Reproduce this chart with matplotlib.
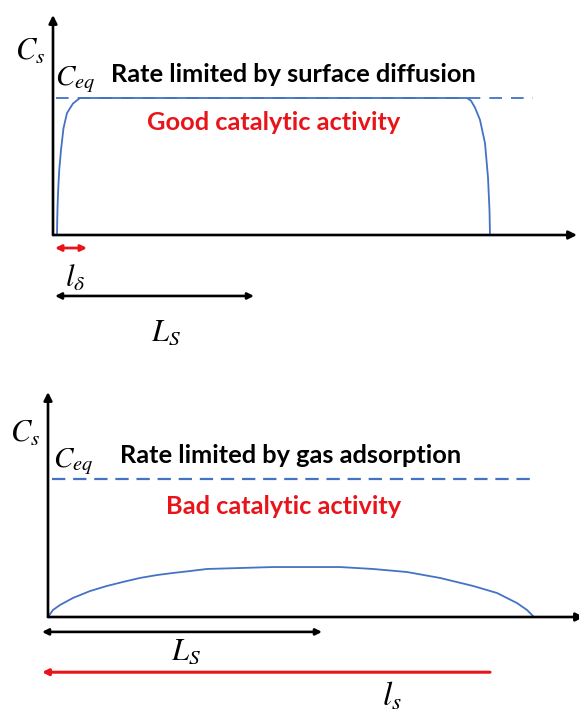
#%%### Imports
import numpy as np
import matplotlib as mpl
import matplotlib.pyplot as plt

#%%### Data
## Surface concentration profiles, C_s / C_eq vs. position (arbitrary length units)
## Top: rate limited by surface diffusion
top_x = [4, 4.2, 4.6, 5.3, 6.3, 8, 10.5, 14, 20, 27, 414, 418, 422, 427, 432, 435, 436.5, 437]
top_c = [0, 0.1, 0.22, 0.35, 0.48, 0.62, 0.78, 0.89, 0.96, 1.0, 1.0, 0.98, 0.93, 0.84, 0.67, 0.42, 0.18, 0]
## Bottom: rate limited by gas adsorption
bot_x = [0, 5, 12, 25, 42, 59, 75, 92, 109, 125, 142, 159, 192, 225, 242, 292,
         325, 359, 392, 425, 449, 469, 479, 486]
bot_c = [0, 0.051, 0.087, 0.138, 0.188, 0.225, 0.254, 0.283, 0.304, 0.319, 0.333, 0.348,
         0.355, 0.362, 0.362, 0.362, 0.348, 0.326, 0.283, 0.225, 0.174, 0.101, 0.051, 0]
c_eq = 1.0

## Length scales drawn under the axes
top_ldelta = 32
top_Ls = 199
bot_Ls = 280
bot_ls = 448

titles = ['Rate limited by surface diffusion', 'Rate limited by gas adsorption']
verdicts = ['Good catalytic activity', 'Bad catalytic activity']

#%%### Style
blue = '#4472C4'
red = '#E8141A'
plt.rcParams['mathtext.fontset'] = 'stix'
textfont = dict(family='Lato', weight='bold', fontsize=18.3)
mathsize = 21


def axis_arrows(ax, xend, ytop):
    for tip in [(0, ytop), (xend, 0)]:
        ax.annotate('', xy=tip, xytext=(0, 0), annotation_clip=False,
                    arrowprops=dict(arrowstyle='-|>', color='k', lw=1.9,
                                    shrinkA=0, shrinkB=0, mutation_scale=12))


def span(ax, x0, x1, y, color, style='<|-|>', lw=1.9):
    ax.annotate('', xy=(x1, y), xytext=(x0, y), annotation_clip=False,
                arrowprops=dict(arrowstyle=style, color=color, lw=lw,
                                shrinkA=0, shrinkB=0, mutation_scale=9))


#%%### Figure
f = plt.figure(figsize=(5.79, 7.16), dpi=100)

### Top panel: origin at pixel (53, 235), C_eq 137 px above
ax1 = f.add_axes([0, 356/716, 1, 360/716])
ax1.set_xlim(-53, 526)
ax1.set_ylim(-125/137, 235/137)
ax1.axis('off')
axis_arrows(ax1, 524, 220/137)
ax1.plot([3, 480], [c_eq, c_eq], color=blue, lw=1.3, ls=(0, (7, 5)))
ax1.plot(top_x, top_c, color=blue, lw=1.3, solid_capstyle='round')
ax1.text(-38, 1.28, r'$C_s$', fontsize=mathsize + 1, ha='left', va='baseline')
ax1.text(2, 1.095, r'$C_{eq}$', fontsize=mathsize, ha='left', va='baseline')
ax1.text(58, 1.175, titles[0], color='k', ha='left', va='center', **textfont)
ax1.text(94, 0.82, verdicts[0], color=red, ha='left', va='center', **textfont)
span(ax1, 2, 2 + top_ldelta, -0.095, red, lw=2.0)
ax1.text(22, -0.31, r'$l_\delta$', fontsize=mathsize + 1, ha='center', va='center')
span(ax1, 2, 2 + top_Ls, -0.445, 'k')
ax1.text(113, -0.71, r'$L_S$', fontsize=mathsize + 1, ha='center', va='center')

### Bottom panel: origin at pixel (48, 617), C_eq 138 px above
ax2 = f.add_axes([0, 0, 1, 356/716])
ax2.set_xlim(-48, 531)
ax2.set_ylim(-99/138, 257/138)
ax2.axis('off')
axis_arrows(ax2, 536, 225/138)
ax2.plot([4, 489], [c_eq, c_eq], color=blue, lw=1.6, ls=(0, (6, 3.5)))
ax2.plot(bot_x, bot_c, color=blue, lw=1.3)
ax2.text(-38, 1.266, r'$C_s$', fontsize=mathsize + 1, ha='left', va='baseline')
ax2.text(5, 1.086, r'$C_{eq}$', fontsize=mathsize, ha='left', va='baseline')
ax2.text(72, 1.17, titles[1], color='k', ha='left', va='center', **textfont)
ax2.text(118, 0.80, verdicts[1], color=red, ha='left', va='center', **textfont)
span(ax2, -6, -6 + bot_Ls, -0.108, 'k')
ax2.text(138, -0.25, r'$L_S$', fontsize=mathsize + 1, ha='center', va='center')
span(ax2, -6 + bot_ls, -6, -0.40, red, style='-|>', lw=2.2)
ax2.text(344, -0.69, r'$l_s$', fontsize=mathsize + 3, ha='center', va='bottom')

f.savefig('out.png', dpi=100)
